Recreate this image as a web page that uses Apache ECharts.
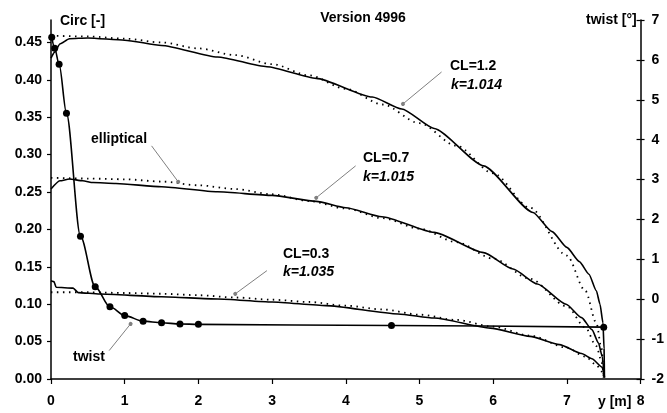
<!DOCTYPE html>
<html>
<head>
<meta charset="utf-8">
<script src="https://cdn.jsdelivr.net/npm/echarts@6/dist/echarts.min.js"></script>
<style>
html,body{margin:0;padding:0;background:#fff;}
#c{width:667px;height:413px;}
</style>
</head>
<body>
<div id="c"></div>
<script>
// ---- data ----
const xTicks = [0, 1, 2, 3, 4, 5, 6, 7, 8];
const leftTicks = [0, 0.05, 0.10, 0.15, 0.20, 0.25, 0.30, 0.35, 0.40, 0.45];
const rightTicks = [-2, -1, 0, 1, 2, 3, 4, 5, 6, 7];

const cl12X = [0, 0.05, 0.12, 0.25, 0.5, 1.0, 1.5, 2.26, 2.93, 3.6, 4.36, 4.76, 5.2, 5.87, 6.54, 6.8, 7.0, 7.17, 7.3, 7.4, 7.45, 7.49, 7.505, 7.51];
const cl12Y = [0.429, 0.437, 0.448, 0.455, 0.456, 0.453, 0.446, 0.4306, 0.4175, 0.402, 0.377, 0.361, 0.335, 0.285, 0.2227, 0.197, 0.176, 0.157, 0.140, 0.118, 0.100, 0.075, 0.040, 0.002];

const cl07X = [0, 0.12, 0.25, 0.43, 0.57, 0.88, 1.5, 2.26, 3.0, 3.6, 4.0, 4.49, 5.2, 5.87, 6.27, 6.6, 6.99, 7.2, 7.34, 7.43, 7.48, 7.51];
const cl07Y = [0.254, 0.265, 0.2674, 0.265, 0.2627, 0.2614, 0.257, 0.2503, 0.2455, 0.2375, 0.229, 0.217, 0.196, 0.169, 0.147, 0.127, 0.100, 0.082, 0.066, 0.048, 0.030, 0.002];

const cl03X = [0, 0.04, 0.07, 0.3, 0.37, 0.66, 1.5, 2.26, 3.0, 3.73, 4.71, 5.2, 5.96, 6.5, 6.9, 7.2, 7.34, 7.48, 7.51];
const cl03Y = [0.1315, 0.1302, 0.1226, 0.1215, 0.1155, 0.1137, 0.110, 0.107, 0.103, 0.0981, 0.087, 0.0815, 0.068, 0.057, 0.046, 0.034, 0.027, 0.0158, 0.002];

const ellX = [0, 0.5, 1, 1.5, 2, 2.5, 3, 3.5, 4, 4.5, 5, 5.5, 6, 6.5, 7, 7.25, 7.4, 7.47, 7.5];
const ell12 = [0.459, 0.458, 0.455, 0.450, 0.442, 0.433, 0.421, 0.406, 0.388, 0.367, 0.342, 0.312, 0.275, 0.229, 0.165, 0.118, 0.075, 0.041, 0.002];
const ell07 = [0.269, 0.268, 0.267, 0.264, 0.259, 0.254, 0.247, 0.238, 0.228, 0.215, 0.201, 0.183, 0.161, 0.134, 0.097, 0.069, 0.044, 0.024, 0.002];
const ell03 = [0.116, 0.116, 0.115, 0.114, 0.112, 0.109, 0.106, 0.103, 0.098, 0.093, 0.086, 0.079, 0.070, 0.058, 0.042, 0.030, 0.019, 0.010, 0.002];

const twistX = [0.01, 0.05, 0.11, 0.21, 0.4, 0.6, 0.8, 1.0, 1.25, 1.5, 1.75, 2.0, 4.62, 7.5];
const twistY = [6.57, 6.29, 5.89, 4.66, 1.58, 0.31, -0.19, -0.41, -0.55, -0.59, -0.62, -0.63, -0.66, -0.70];

// leader lines [x1, c1, x2, c2] in data units (left axis)
const leaders = [
  [1.365, 0.3117, 1.726, 0.2637],   // elliptical
  [5.30, 0.4105, 4.776, 0.3678],    // CL=1.2
  [4.134, 0.285, 3.599, 0.2423],    // CL=0.7
  [2.93, 0.1449, 2.50, 0.1138],     // CL=0.3
  [0.789, 0.038, 1.08, 0.0737]      // twist
];

// ---- chart ----
const FONT = '"Liberation Sans", Arial, sans-serif';
const pair = (xs, ys) => xs.map((x, i) => [x, ys[i]]);
const chart = echarts.init(document.getElementById('c'), null, {renderer: 'canvas'});

const solid = (name, xs, ys, extra) => Object.assign({
  name, type: 'line', data: pair(xs, ys), showSymbol: false, symbol: 'none',
  smooth: 0.2, smoothMonotone: 'x',
  lineStyle: {color: '#000', width: 1.6}, itemStyle: {color: '#000'},
  silent: true, z: 3
}, extra || {});
const dotted = (name, xs, ys) => ({
  name, type: 'line', data: pair(xs, ys), showSymbol: false, symbol: 'none',
  smooth: 0.3, smoothMonotone: 'x',
  lineStyle: {color: '#000', width: 1.8, type: [1.5, 4.5]}, silent: true, z: 2
});

const txt = (text, x, y, opt) => ({
  type: 'text', x, y, silent: true,
  style: Object.assign({text, fill: '#000', font: 'bold 14px ' + FONT,
    textAlign: 'left', textVerticalAlign: 'middle'}, opt || {})
});

chart.setOption({
  animation: false,
  backgroundColor: '#fff',
  grid: {left: 51, right: 18, top: 20, bottom: 34, containLabel: false},
  xAxis: {
    type: 'value', min: 0, max: 8, interval: 1,
    axisLine: {show: true, lineStyle: {color: '#000', width: 1.5}},
    axisTick: {show: true, inside: false, length: 5, lineStyle: {color: '#000', width: 1.2}},
    axisLabel: {color: '#000', fontFamily: FONT, fontWeight: 'bold', fontSize: 14, margin: 15,
      customValues: xTicks},
    splitLine: {show: false}
  },
  yAxis: [
    {
      type: 'value', min: 0, max: 0.48, position: 'left',
      axisLine: {show: true, lineStyle: {color: '#000', width: 1.5}},
      axisTick: {show: true, inside: false, length: 4, customValues: leftTicks, lineStyle: {color: '#000', width: 1.2}},
      axisLabel: {color: '#000', fontFamily: FONT, fontWeight: 'bold', fontSize: 14, margin: 9,
        customValues: leftTicks, formatter: v => v.toFixed(2)},
      splitLine: {show: false}
    },
    {
      type: 'value', min: -2, max: 7, interval: 1, position: 'right',
      axisLine: {show: true, lineStyle: {color: '#000', width: 1.5}},
      axisTick: {show: true, inside: false, length: 4, lineStyle: {color: '#000', width: 1.2}},
      axisLabel: {color: '#000', fontFamily: FONT, fontWeight: 'bold', fontSize: 14, margin: 11,
        customValues: rightTicks, formatter: v => String(v)},
      splitLine: {show: false}
    },
    {
      type: 'value', min: -2, max: 7, interval: 1, position: 'right',
      axisLine: {show: false},
      axisTick: {show: true, inside: true, length: 4, lineStyle: {color: '#000', width: 1.2}},
      axisLabel: {show: false},
      splitLine: {show: false}
    }
  ],
  series: [
    dotted('ell 1.2', ellX, ell12),
    dotted('ell 0.7', ellX, ell07),
    dotted('ell 0.3', ellX, ell03),
    solid('CL=1.2', cl12X, cl12Y),
    solid('CL=0.7', cl07X, cl07Y),
    solid('CL=0.3', cl03X, cl03Y, {
      markLine: {
        silent: true, symbol: ['none', 'circle'], symbolSize: 4, precision: 4,
        lineStyle: {color: '#808080', width: 1, type: 'solid'},
        label: {show: false}, emphasis: {disabled: true},
        data: leaders.map(l => [{coord: [l[0], l[1]]}, {coord: [l[2], l[3]]}])
      }
    }),
    {
      name: 'twist', type: 'line', yAxisIndex: 1, data: pair(twistX, twistY),
      symbol: 'circle', symbolSize: 7, showSymbol: true,
      smooth: 0.3, smoothMonotone: 'x',
      lineStyle: {color: '#000', width: 1.6}, itemStyle: {color: '#000'},
      silent: true, z: 4
    }
  ],
  graphic: [
    txt('Version 4996', 363, 18, {textAlign: 'center'}),
    txt('Circ [-]', 60, 21),
    txt('twist [°]', 586, 20),
    txt('elliptical', 91, 139),
    txt('CL=1.2', 450, 66),
    txt('k=1.014', 451, 85, {font: 'italic bold 14px ' + FONT}),
    txt('CL=0.7', 363, 158),
    txt('k=1.015', 363, 177, {font: 'italic bold 14px ' + FONT}),
    txt('CL=0.3', 283, 254),
    txt('k=1.035', 283, 272, {font: 'italic bold 14px ' + FONT}),
    txt('twist', 73, 357),
    txt('y [m]', 598, 402)
  ]
});
</script>
</body>
</html>
